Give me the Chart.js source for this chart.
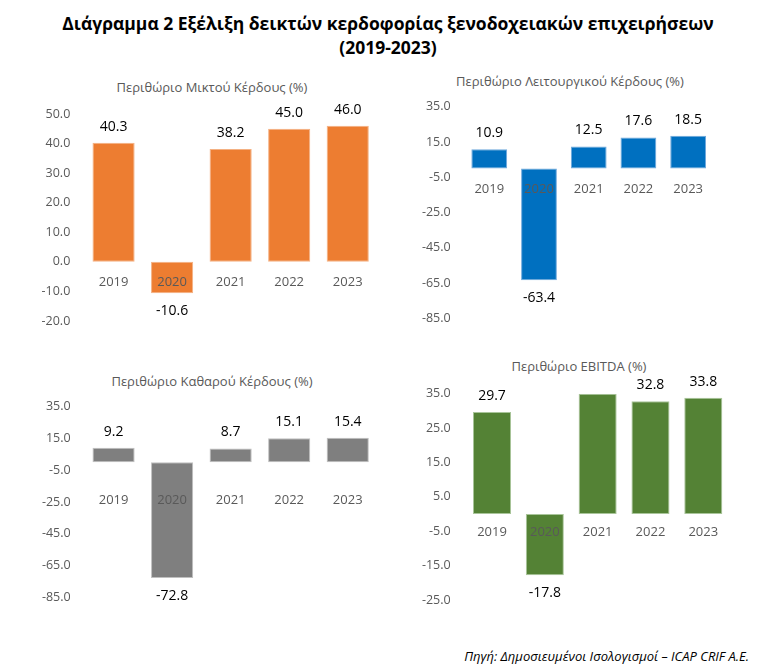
<!DOCTYPE html>
<html><head><meta charset="utf-8">
<script src="https://cdn.jsdelivr.net/npm/chart.js@4.4.0/dist/chart.umd.min.js"></script>
<style>
body{margin:0;width:768px;height:671px;background:#fff;position:relative;font-family:"Open Sans",sans-serif;overflow:hidden}
.t{position:absolute;white-space:nowrap;transform:translate(-50%,-50%);color:#595959;font-size:13px;line-height:16px}
canvas{position:absolute}
</style></head><body>
<div style="position:absolute;left:4px;top:11px;width:768px;text-align:center;font-weight:700;font-size:17.5px;line-height:24px;color:#000">Διάγραμμα 2 Εξέλιξη δεικτών κερδοφορίας ξενοδοχειακών επιχειρήσεων<br>(2019-2023)</div>
<div class="t" style="left:212px;top:87px">Περιθώριο Μικτού Κέρδους (%)</div>
<div class="t" style="left:570px;top:81px">Περιθώριο Λειτουργικού Κέρδους (%)</div>
<div class="t" style="left:212px;top:381px">Περιθώριο Καθαρού Κέρδους (%)</div>
<div class="t" style="left:579px;top:366px">Περιθώριο EBITDA (%)</div>
<div style="position:absolute;right:19px;top:647px;font-style:italic;font-size:13px;line-height:19px;color:#000">Πηγή: Δημοσιευμένοι Ισολογισμοί – ICAP CRIF A.E.</div>
<canvas id="c1" width="384" height="235" style="left:0;top:100px"></canvas>
<canvas id="c2" width="384" height="240" style="left:384px;top:92px"></canvas>
<canvas id="c3" width="384" height="220" style="left:0;top:392px"></canvas>
<canvas id="c4" width="384" height="253" style="left:384px;top:362px"></canvas>
<script>
const years = ['2019','2020','2021','2022','2023'];
const grossMargin = [40.3, -10.6, 38.2, 45.0, 46.0];
const operatingMargin = [10.9, -63.4, 12.5, 17.6, 18.5];
const netMargin = [9.2, -72.8, 8.7, 15.1, 15.4];
const ebitdaMargin = [29.7, -17.8, 35.0, 32.8, 33.8];
const ebitdaLabelShown = [true, true, false, true, true];

const valueLabels = {
  id: 'valueLabels',
  afterDatasetsDraw(chart, args, opts) {
    const ctx = chart.ctx;
    const meta = chart.getDatasetMeta(0);
    const data = chart.data.datasets[0].data;
    const shown = opts.shown || data.map(() => true);
    ctx.save();
    ctx.font = '14px "Open Sans"';
    ctx.fillStyle = '#000';
    ctx.textAlign = 'center';
    ctx.textBaseline = 'middle';
    meta.data.forEach((bar, i) => {
      if (!shown[i]) return;
      const v = data[i];
      const y = v >= 0 ? bar.y - 16 : bar.y + 18;
      ctx.fillText(v.toFixed(1), bar.x, y);
    });
    ctx.restore();
  }
};

function noPad(s) { s.paddingTop = 0; s.paddingBottom = 0; }

function makeChart(id, values, color, border, yMin, yMax, step, axisW, yPad, pad, xPad, shown) {
  return new Chart(document.getElementById(id), {
    type: 'bar',
    data: { labels: years, datasets: [{ data: values, backgroundColor: color, borderColor: border, borderWidth: 1, borderSkipped: false, barPercentage: 0.72, categoryPercentage: 1 }] },
    options: {
      responsive: false, animation: false,
      layout: { padding: pad },
      plugins: { legend: { display: false }, tooltip: { enabled: false }, valueLabels: { shown } },
      scales: {
        y: {
          min: yMin, max: yMax,
          afterFit: s => { s.width = axisW; noPad(s); },
          grid: { display: false, drawTicks: false },
          border: { display: false },
          ticks: { stepSize: step, padding: yPad, color: '#595959', font: { family: 'Open Sans', size: 12.5 }, callback: v => v.toFixed(1) }
        },
        x: {
          position: { y: 0 },
          afterFit: s => { s.paddingLeft = 0; s.paddingRight = 0; noPad(s); },
          grid: { display: false, drawTicks: false },
          border: { display: false },
          ticks: { z: 1, autoSkip: false, padding: xPad, color: '#595959', font: { family: 'Open Sans', size: 13 } }
        }
      }
    },
    plugins: [valueLabels]
  });
}

makeChart('c1', grossMargin, '#ED7D31', '#F4B183', -20, 50, 10, 84.3, 14, { top: 14, bottom: 14, right: 7, left: 0 }, 12.2);
makeChart('c2', operatingMargin, '#0070C0', '#6FA8DC', -85, 35, 20, 80.4, 13.7, { top: 14.7, bottom: 13.7, right: 55, left: 0 }, 12.9);
makeChart('c3', netMargin, '#7F7F7F', '#BFBFBF', -85, 35, 20, 84.3, 13.6, { top: 14.7, bottom: 14.7, right: 7, left: 0 }, 30.4);
makeChart('c4', ebitdaMargin, '#548235', '#A9C59A', -25, 35, 10, 81.6, 14.9, { top: 31.7, bottom: 15, right: 38.3, left: 0 }, 10.5, ebitdaLabelShown);
</script>
</body></html>
